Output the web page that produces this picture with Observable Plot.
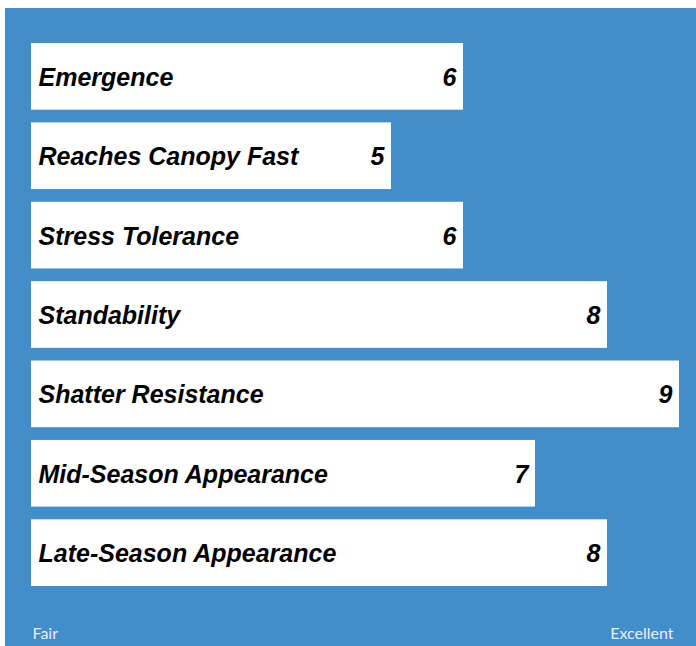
<!DOCTYPE html>
<html>
<head>
<meta charset="utf-8">
<script src="https://cdn.jsdelivr.net/npm/d3@7"></script>
<script src="https://cdn.jsdelivr.net/npm/@observablehq/plot@0.6"></script>
<style>
  html, body { margin: 0; padding: 0; background: #fff; }
  #wrap { padding: 8px 0 0 5px; }
  svg { display: block; }
</style>
</head>
<body>
<div id="wrap"></div>
<script>
const traits = ["Emergence", "Reaches Canopy Fast", "Stress Tolerance", "Standability", "Shatter Resistance", "Mid-Season Appearance", "Late-Season Appearance"];
const scores = [6, 5, 6, 8, 9, 7, 8];
const scaleLabels = ["Fair", "Excellent"];
const scaleValues = [0, 9];

const data = traits.map((t, i) => ({trait: t, score: scores[i]}));
const low = [{x: scaleValues[0], label: scaleLabels[0]}];
const high = [{x: scaleValues[1], label: scaleLabels[1]}];
const labelFont = "Liberation Sans, Arial, sans-serif";

const chart = Plot.plot({
  width: 691,
  height: 638,
  marginLeft: 26,
  marginRight: 17,
  marginTop: 35,
  marginBottom: 60,
  style: {background: "#418ecb", fontFamily: labelFont},
  x: {domain: [0, 9], axis: null},
  y: {domain: traits, axis: null, paddingInner: 0.16, paddingOuter: 0, round: false},
  marks: [
    Plot.barX(data, {x: "score", y: "trait", fill: "#ffffff"}),
    Plot.text(data, {x: 0, y: "trait", text: "trait", textAnchor: "start", dx: 7, dy: 1, fill: "#000",
      fontSize: 25, fontWeight: "bold", fontStyle: "italic", fontFamily: labelFont}),
    Plot.text(data, {x: "score", y: "trait", text: d => String(d.score), textAnchor: "end", dx: -7, dy: 1, fill: "#000",
      fontSize: 25, fontWeight: "bold", fontStyle: "italic", fontFamily: labelFont}),
    Plot.text(low, {x: "x", text: "label", frameAnchor: "bottom", textAnchor: "start", dx: 1, dy: 52, fill: "#e8eff7", fontSize: 16, fontFamily: "Lato, sans-serif"}),
    Plot.text(high, {x: "x", text: "label", frameAnchor: "bottom", textAnchor: "end", dx: -6, dy: 52, fill: "#e8eff7", fontSize: 16, fontFamily: "Lato, sans-serif"})
  ]
});
document.getElementById("wrap").appendChild(chart);
</script>
</body>
</html>
